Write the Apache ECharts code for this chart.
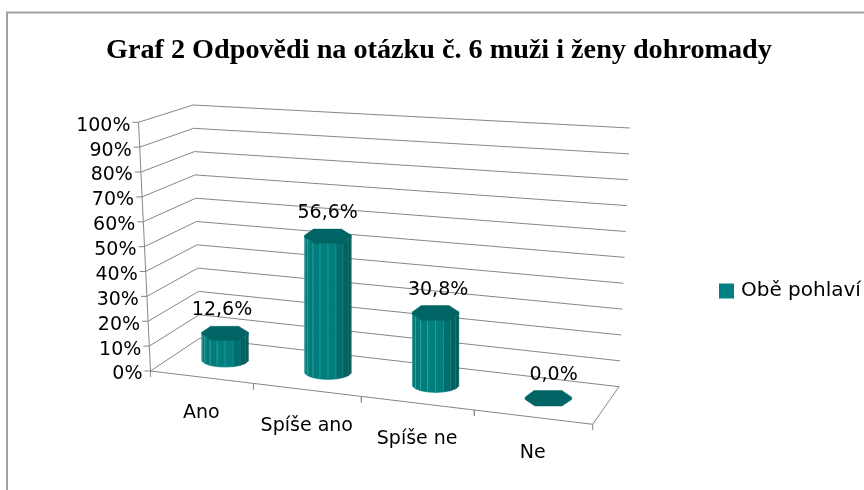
<!DOCTYPE html>
<html><head><meta charset="utf-8">
<style>html,body{margin:0;padding:0;background:#fff}#c{width:864px;height:490px}</style>
<script src="https://cdn.jsdelivr.net/npm/echarts@6/dist/echarts.min.js"></script>
</head><body><div id="c"></div>
<script>
var titleText = 'Graf 2 Odpovědi na otázku č. 6 muži i ženy dohromady';
var seriesName = 'Obě pohlaví';
var categories = ['Ano', 'Spíše ano', 'Spíše ne', 'Ne'];
var values = [12.6, 56.6, 30.8, 0.0];
var valueTicks = [0, 10, 20, 30, 40, 50, 60, 70, 80, 90, 100];
var valueTickLabels = ['0%', '10%', '20%', '30%', '40%', '50%', '60%', '70%', '80%', '90%', '100%'];

var GRID = {left: 100, top: 100, width: 400, height: 200};
// Corners of the 3D box on screen: [front-left, front-right, back-right, back-left]
var FLOOR = [[150.5, 371], [592.7, 424.3], [619, 386.7], [200, 338]];
var CEIL = [[138.5, 122.3], [612, 158], [630, 128], [193, 105]];

function homography(q) {
  var dx1 = q[1][0] - q[2][0], dx2 = q[3][0] - q[2][0], sx = q[0][0] - q[1][0] + q[2][0] - q[3][0];
  var dy1 = q[1][1] - q[2][1], dy2 = q[3][1] - q[2][1], sy = q[0][1] - q[1][1] + q[2][1] - q[3][1];
  var d = dx1 * dy2 - dx2 * dy1;
  var g = (sx * dy2 - dx2 * sy) / d, h = (dx1 * sy - sx * dy1) / d;
  var a = q[1][0] - q[0][0] + g * q[1][0], b = q[3][0] - q[0][0] + h * q[3][0], c = q[0][0];
  var e = q[1][1] - q[0][1] + g * q[1][1], f = q[3][1] - q[0][1] + h * q[3][1], i = q[0][1];
  return function (u, w) {
    var z = g * u + h * w + 1;
    return [(a * u + b * w + c) / z, (e * u + f * w + i) / z];
  };
}
var hFloor = homography(FLOOR), hCeil = homography(CEIL);
var WARP = -0.045;
// u: across categories 0..1, h: height 0..1, w: depth 0 (front)..1 (back)
function project(u, h, w) {
  var uu = u + WARP * u * (1 - u);
  var p = hFloor(uu, w), q = hCeil(uu, w);
  return [p[0] + (q[0] - p[0]) * h, p[1] + (q[1] - p[1]) * h];
}
// turn axis pixels from the cartesian system into box coordinates
function toBox(pt) {
  return {u: (pt[0] - GRID.left) / GRID.width, h: (GRID.top + GRID.height - pt[1]) / GRID.height};
}
var LINE = '#868686', FONT = '"DejaVu Sans"', FS = 19;
function seg(a, b, w) {
  return {type: 'line', shape: {x1: a[0], y1: a[1], x2: b[0], y2: b[1]}, style: {stroke: LINE, lineWidth: w || 1, fill: null}, silent: true};
}
function txt(s, x, y, align) {
  return {type: 'text', x: x, y: y, silent: true, style: {text: s, fill: '#000', font: FS + 'px ' + FONT, align: align || 'center', verticalAlign: 'middle'}};
}
function renderValueTick(params, api) {
  var b = toBox(api.coord([0, api.value(0)]));
  var f = project(0, b.h, 0), bk = project(0, b.h, 1), br = project(1, b.h, 1);
  return {type: 'group', children: [
    seg(f, bk), seg(bk, br),
    seg([f[0] - 6, f[1]], f),
    txt(valueTickLabels[params.dataIndex], f[0] - 8, f[1] + 3.5, 'right')
  ]};
}
function renderCategory(params, api) {
  var i = params.dataIndex;
  var band = api.size([1, 0])[0];
  var c = api.coord([i, 0]);
  var left = toBox([c[0] - band / 2, c[1]]), right = toBox([c[0] + band / 2, c[1]]), mid = toBox(c);
  var a = project(left.u, 0, 0), z = project(right.u, 0, 0), m = project(mid.u, 0, 0);
  var kids = [seg(a, z), seg(a, [a[0], a[1] + 6]), seg(z, [z[0], z[1] + 6]), txt(categories[i], m[0], m[1] + 36)];
  if (i === 3) kids.push(seg(z, project(1, 0, 1)));
  if (i === 0) kids.push(seg(project(0, 0, 0), project(0, 1, 0)));
  return {type: 'group', children: kids};
}
function mix(a, b, t) {
  return 'rgb(' + a.map(function (v, k) { return Math.round(v + (b[k] - v) * t); }).join(',') + ')';
}
var SIDES = 18, HALF_W = 23.3, RW = 0.21, WC = 0.52;
var BAR_SCALE = 248, BAR_INSET = 4.5;
// low-poly cap outline relative to the bar's centre and radii (screen-aligned, as in the picture)
var CAP = [[-1, 0.15], [-0.62, 1], [0.58, 1], [1, 0.15], [1, -0.15], [0.58, -1], [-0.58, -1], [-1, -0.15]];
function renderBar(params, api) {
  var top = toBox(api.coord([api.value(0), api.value(1)]));
  var lift = top.h > 0.001 ? top.h * BAR_SCALE - BAR_INSET : 0;
  var uc = top.u - 0.004 * (1 - top.u);
  var c0 = project(uc, 0, WC);
  c0[1] += 1;
  var hw = HALF_W;
  var hh = (project(uc, 0, WC - RW)[1] - project(uc, 0, WC + RW)[1]) / 2;
  var kids = [], ring = [], i;
  for (i = 0; i < SIDES; i++) {
    var t = (i + 0.5) / SIDES * Math.PI * 2;
    var b = [c0[0] + hw * Math.cos(t), c0[1] - hh * Math.sin(t)];
    ring.push({t: t, a: [b[0], b[1] - lift], b: b});
  }
  if (lift > 0) {
    for (i = 0; i < SIDES; i++) {
      var r1 = ring[i], r2 = ring[(i + 1) % SIDES];
      var tm = r1.t + Math.PI / SIDES;
      if (Math.sin(tm) > 0.05) continue;
      var k = (Math.cos(tm) + 1) / 2;
      var col = k < 0.55 ? mix([0, 122, 122], [0, 128, 128], k / 0.55) : mix([0, 128, 128], [0, 88, 88], (k - 0.55) / 0.45);
      kids.push({type: 'polygon', silent: true, shape: {points: [r1.a, r2.a, r2.b, r1.b]}, style: {fill: col, stroke: col, lineWidth: 0.6}});
    }
    for (i = 0; i < SIDES; i++) {
      var s = Math.sin(ring[i].t), co = Math.cos(ring[i].t);
      if (s > -0.15) continue;
      kids.push({type: 'line', silent: true, shape: {x1: ring[i].a[0], y1: ring[i].a[1], x2: ring[i].b[0], y2: ring[i].b[1]},
        style: {stroke: 'rgba(150,210,210,' + (0.4 - 0.28 * (co + 1) / 2).toFixed(2) + ')', lineWidth: 1}});
    }
  }
  var capPts = CAP.map(function (c) { return [c0[0] + hw * c[0], c0[1] - hh * c[1] - lift]; });
  kids.push({type: 'polygon', silent: true, shape: {points: capPts}, style: {fill: '#006464', stroke: '#006464', lineWidth: 0.5}});
  kids.push(txt(api.value(1).toFixed(1).replace('.', ',') + '%', c0[0] + (top.u - 0.4) * 11, c0[1] - lift - 23));
  return {type: 'group', children: kids};
}
var chart = echarts.init(document.getElementById('c'), null, {renderer: 'canvas'});
chart.setOption({
  animation: false,
  backgroundColor: '#fff',
  title: {text: titleText, left: 106, top: 37, padding: 0, textStyle: {fontFamily: '"Liberation Serif"', fontWeight: 'bold', fontSize: 28.2, color: '#000'}},
  legend: {show: true, left: 719, top: 281, padding: 0, itemWidth: 15, itemHeight: 15, itemGap: 5, icon: 'rect', data: [{name: seriesName, itemStyle: {color: '#008080'}}],
    textStyle: {fontFamily: FONT, fontSize: 20, color: '#000', padding: [0, 0, 0, 2]}},
  grid: Object.assign({show: false, containLabel: false}, GRID),
  xAxis: {type: 'category', data: categories, show: false},
  yAxis: {type: 'value', min: 0, max: 100, interval: 10, show: false},
  graphic: [{type: 'polyline', silent: true, z: 0, shape: {points: [[7, 490], [7, 12.5], [864, 12.5]]}, style: {stroke: '#a0a0a0', lineWidth: 2, fill: null}}],
  series: [
    {type: 'custom', name: 'value-axis', silent: true, coordinateSystem: 'cartesian2d', clip: false, data: valueTicks.map(function (v) { return [v]; }), encode: {y: 0}, renderItem: renderValueTick, z: 1},
    {type: 'custom', name: 'category-axis', silent: true, coordinateSystem: 'cartesian2d', clip: false, data: categories.map(function (c, i) { return [i]; }), encode: {x: 0}, renderItem: renderCategory, z: 1},
    {type: 'custom', name: seriesName, silent: true, coordinateSystem: 'cartesian2d', clip: false, itemStyle: {color: '#008080'}, data: values.map(function (v, i) { return [i, v]; }), encode: {x: 0, y: 1}, renderItem: renderBar, z: 2}
  ]
});
</script></body></html>
